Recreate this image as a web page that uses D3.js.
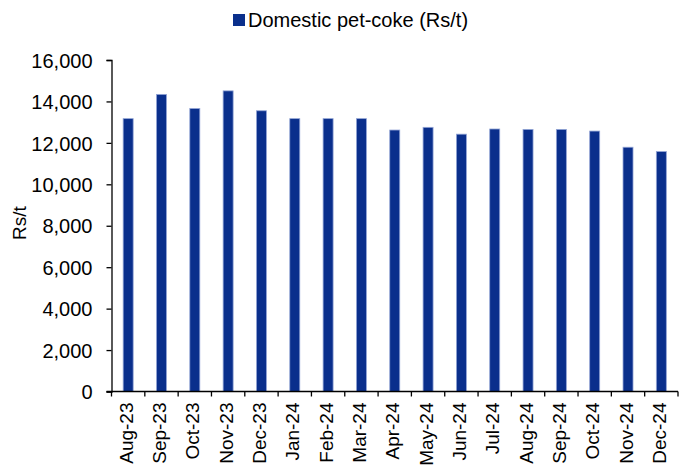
<!DOCTYPE html>
<html>
<head>
<meta charset="utf-8">
<script src="https://cdn.jsdelivr.net/npm/d3@7"></script>
<style>
  body { margin: 0; background: #fff; }
  text { font-family: "Liberation Sans", Arial, sans-serif; fill: #000; }
</style>
</head>
<body>
<svg width="682" height="470"></svg>
<script>
var months = ["Aug-23", "Sep-23", "Oct-23", "Nov-23", "Dec-23", "Jan-24", "Feb-24", "Mar-24",
              "Apr-24", "May-24", "Jun-24", "Jul-24", "Aug-24", "Sep-24", "Oct-24", "Nov-24", "Dec-24"];
var petcoke = [13170, 14340, 13660, 14510, 13550, 13170, 13170, 13170,
               12620, 12750, 12420, 12670, 12650, 12650, 12570, 11790, 11580];
var yTicks = [0, 2000, 4000, 6000, 8000, 10000, 12000, 14000, 16000];
var seriesName = "Domestic pet-coke (Rs/t)";

var svg = d3.select("svg"),
    plotLeft = 111.5, plotRight = 678, plotTop = 60, plotBottom = 391.5;

var x = d3.scaleBand().domain(months).range([plotLeft, plotRight]).paddingInner(0.7).paddingOuter(0.35);
var y = d3.scaleLinear().domain([0, 16000]).range([plotBottom, plotTop]);

// bars
svg.append("g")
  .selectAll("rect")
  .data(petcoke)
  .enter()
  .append("rect")
  .attr("x", (d, i) => x(months[i]))
  .attr("y", d => y(d))
  .attr("width", x.bandwidth())
  .attr("height", d => plotBottom - y(d))
  .attr("fill", "#0a2f8c")
  .attr("stroke", "#93a5d6")
  .attr("stroke-width", 0.8);

// y axis
var yAxis = svg.append("g")
  .attr("transform", "translate(" + plotLeft + ",0)")
  .call(d3.axisLeft(y).tickValues(yTicks).tickSize(5).tickPadding(14).tickFormat(d3.format(",")));
yAxis.select(".domain").attr("stroke", "#000").attr("stroke-width", 1.3);
yAxis.selectAll(".tick line").attr("stroke", "#000").attr("stroke-width", 1.3);
yAxis.selectAll("text")
  .style("font-size", "20px")
  .style("font-family", "Liberation Sans, Arial, sans-serif")
  .attr("dy", "0.36em");

// x axis line + ticks between categories
svg.append("line")
  .attr("x1", plotLeft - 5).attr("x2", plotRight)
  .attr("y1", plotBottom).attr("y2", plotBottom)
  .attr("stroke", "#000").attr("stroke-width", 1.3);

svg.append("g")
  .selectAll("line")
  .data(d3.range(months.length + 1))
  .enter()
  .append("line")
  .attr("x1", i => plotLeft + i * x.step())
  .attr("x2", i => plotLeft + i * x.step())
  .attr("y1", plotBottom).attr("y2", plotBottom + 5)
  .attr("stroke", "#000").attr("stroke-width", 1.3);

svg.append("g")
  .selectAll("text")
  .data(months)
  .enter()
  .append("text")
  .attr("transform", d => "translate(" + (x(d) + x.bandwidth() / 2 + 4.5) + "," + (plotBottom + 11) + ") rotate(-90)")
  .attr("text-anchor", "end")
  .style("font-size", "19px")
  .text(d => d);

// y title
svg.append("text")
  .attr("transform", "translate(26,223) rotate(-90)")
  .attr("text-anchor", "middle")
  .style("font-size", "19px")
  .text("Rs/t");

// legend
svg.append("rect")
  .attr("x", 233).attr("y", 14).attr("width", 12).attr("height", 12)
  .attr("fill", "#0a2f8c");
svg.append("text")
  .attr("x", 248).attr("y", 26.7)
  .style("font-size", "20px")
  .text(seriesName);
</script>
</body>
</html>
